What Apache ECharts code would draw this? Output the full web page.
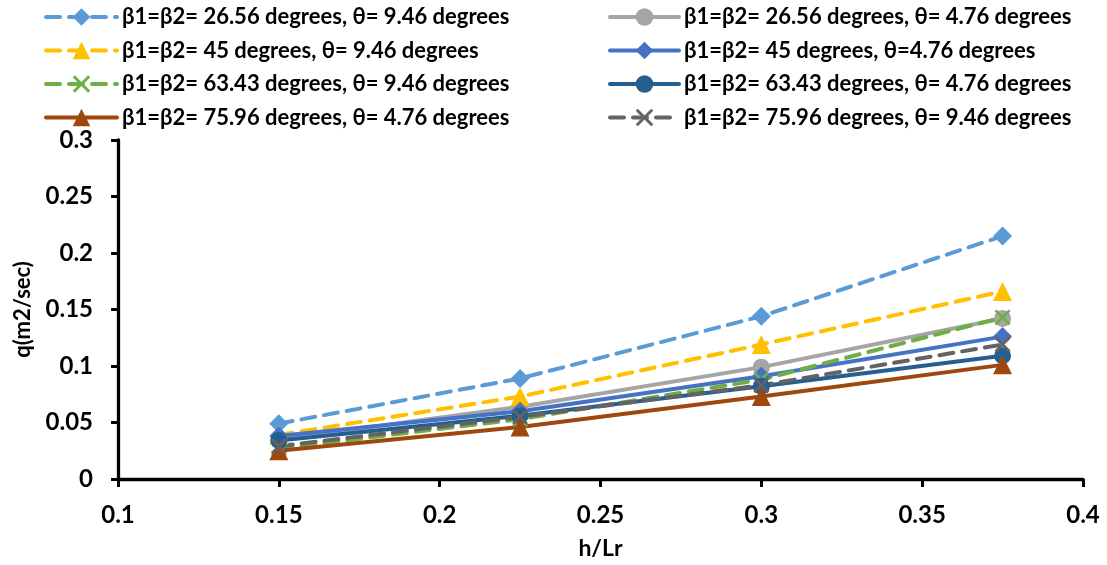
<!DOCTYPE html>
<html>
<head>
<meta charset="utf-8">
<script src="https://cdn.jsdelivr.net/npm/echarts@6/dist/echarts.min.js"></script>
<style>html,body{margin:0;padding:0;background:#fff}#c{width:1107px;height:565px}</style>
</head>
<body>
<div id="c"></div>
<script>
const xValues = [0.15, 0.225, 0.3, 0.375];
const xTicks = ['0.1', '0.15', '0.2', '0.25', '0.3', '0.35', '0.4'];
const yTicks = ['0', '0.05', '0.1', '0.15', '0.2', '0.25', '0.3'];

const s1Name = 'β1=β2= 26.56 degrees, θ= 9.46 degrees';
const s2Name = 'β1=β2= 26.56 degrees, θ= 4.76 degrees';
const s3Name = 'β1=β2= 45 degrees, θ= 9.46 degrees';
const s4Name = 'β1=β2= 45 degrees, θ=4.76 degrees';
const s5Name = 'β1=β2= 63.43 degrees, θ= 9.46 degrees';
const s6Name = 'β1=β2= 63.43 degrees, θ= 4.76 degrees';
const s7Name = 'β1=β2= 75.96 degrees, θ= 4.76 degrees';
const s8Name = 'β1=β2= 75.96 degrees, θ= 9.46 degrees';

const s1Values = [0.049, 0.089, 0.144, 0.215];
const s2Values = [0.035, 0.064, 0.099, 0.142];
const s3Values = [0.039, 0.073, 0.119, 0.166];
const s4Values = [0.038, 0.060, 0.091, 0.126];
const s5Values = [0.027, 0.053, 0.088, 0.143];
const s6Values = [0.034, 0.056, 0.082, 0.109];
const s7Values = [0.025, 0.046, 0.073, 0.101];
const s8Values = [0.029, 0.055, 0.083, 0.119];

const X_SYM = 'path://M0,1.2 L1.2,0 L5,3.8 L8.8,0 L10,1.2 L6.2,5 L10,8.8 L8.8,10 L5,6.2 L1.2,10 L0,8.8 L3.8,5 Z';
const FONT = 'Lato';

function mk(name, vals, color, dashed, symbol, size) {
  return {
    name: name,
    type: 'line',
    data: xValues.map((x, i) => [x, vals[i]]),
    symbol: symbol,
    symbolSize: size,
    showAllSymbol: true,
    lineStyle: { color: color, width: 4, type: dashed ? [14, 9] : 'solid', cap: 'round' },
    itemStyle: { color: color },
    emphasis: { disabled: true },
    z: 2
  };
}

const series = [
  mk(s1Name, s1Values, '#5B9BD5', true, 'diamond', 19),
  mk(s2Name, s2Values, '#A5A5A5', false, 'circle', 17),
  mk(s3Name, s3Values, '#FFC000', true, 'triangle', 19),
  mk(s4Name, s4Values, '#4472C4', false, 'diamond', 19),
  mk(s5Name, s5Values, '#70AD47', true, X_SYM, 16),
  mk(s6Name, s6Values, '#255E91', false, 'circle', 17),
  mk(s7Name, s7Values, '#9E480E', false, 'triangle', 19),
  mk(s8Name, s8Values, '#636363', true, X_SYM, 16)
];

const legendText = { fontFamily: FONT, fontWeight: 'bold', fontSize: 22, color: '#000', lineHeight: 22 };
const legendLine = { width: 4 };

const chart = echarts.init(document.getElementById('c'), null, { renderer: 'canvas' });
chart.setOption({
  animation: false,
  backgroundColor: '#fff',
  legend: [
    { data: [s1Name, s3Name, s5Name, s7Name], orient: 'vertical', left: 44, top: 6,
      itemWidth: 71, itemHeight: 22, itemGap: 11.5, textStyle: legendText, padding: 0, lineStyle: legendLine },
    { data: [s2Name, s4Name, s6Name, s8Name], orient: 'vertical', left: 608, top: 6,
      itemWidth: 69, itemHeight: 22, itemGap: 11.5, textStyle: legendText, padding: 0, lineStyle: legendLine }
  ],
  grid: { left: 118, right: 24, top: 140, bottom: 85, containLabel: false },
  xAxis: {
    type: 'value', min: 0.1, max: 0.4, interval: 0.05,
    name: 'h/Lr', nameLocation: 'middle', nameGap: 58,
    nameTextStyle: { fontFamily: FONT, fontWeight: 'bold', fontSize: 23, color: '#000' },
    axisLine: { show: true, onZero: false, lineStyle: { color: '#000', width: 3.3 } },
    axisTick: { show: true, length: 8, lineStyle: { color: '#000', width: 3 } },
    axisLabel: { fontFamily: FONT, fontWeight: 'bold', fontSize: 24, color: '#000', margin: 24,
      formatter: (v) => { const i = Math.round((v - 0.1) / 0.05); return xTicks[i] !== undefined ? xTicks[i] : ''; } },
    splitLine: { show: false }
  },
  yAxis: {
    type: 'value', min: 0, max: 0.3, interval: 0.05,
    name: 'q(m2/sec)', nameLocation: 'middle', nameGap: 84, nameRotate: 90,
    nameTextStyle: { fontFamily: FONT, fontWeight: 'bold', fontSize: 22, color: '#000' },
    axisLine: { show: true, lineStyle: { color: '#000', width: 3.3 } },
    axisTick: { show: true, length: 7, lineStyle: { color: '#000', width: 3 } },
    axisLabel: { fontFamily: FONT, fontWeight: 'bold', fontSize: 24, color: '#000', margin: 25,
      formatter: (v) => { const i = Math.round(v / 0.05); return yTicks[i] !== undefined ? yTicks[i] : ''; } },
    splitLine: { show: false }
  },
  series: series
});
</script>
</body>
</html>
